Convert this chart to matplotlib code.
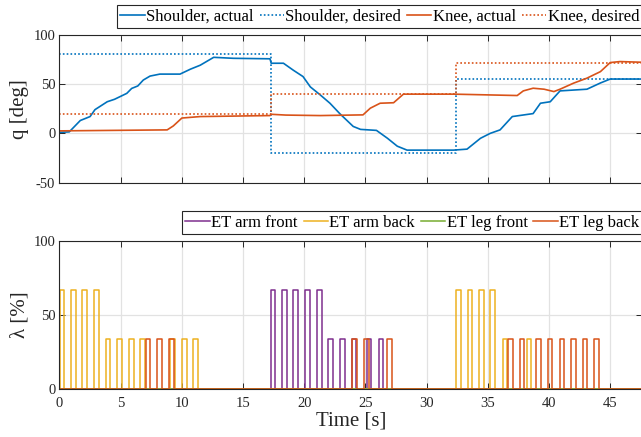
import numpy as np
import matplotlib.pyplot as plt

plt.rcParams['font.family'] = ['Liberation Serif', 'DejaVu Serif']
plt.rcParams['axes.unicode_minus'] = False

# ---- top panel: joint angles ----
shoulder_t = [0, 0.8, 1.7, 2.5, 2.9, 3.9, 4.5, 5.5, 5.9, 6.4, 6.85, 7.4, 8.2, 9.85,
              10.7, 11.5, 12.6, 14.2, 17.2, 17.3, 18.3, 19.1, 19.9, 20.5, 21.3, 22.1,
              22.9, 24.0, 24.6, 25.9, 26.8, 27.6, 28.4, 32.2, 33.3, 34.4, 35.2, 36.0,
              37.0, 38.7, 39.3, 40.1, 40.9, 43.1, 44.2, 45.0, 47.6]
shoulder_q = [1, 1.5, 13, 17, 24, 32, 34.5, 40.5, 45.5, 48, 54, 58, 60, 60,
              65, 69, 77, 76, 75.5, 71, 71, 64, 57.5, 47, 39, 30.5,
              20, 7, 4, 3, -5, -13, -17, -17, -16, -5, 0, 3.5,
              17, 20, 30.5, 32, 43, 44.7, 51, 55, 55]

knee_t = [0, 8.8, 9.3, 10.0, 11.5, 17.2, 17.3, 18.5, 21.3, 24.8, 25.4, 26.2, 27.3,
          28.1, 32.2, 37.4, 37.9, 38.7, 39.6, 40.4, 40.9, 42.0, 43.1, 44.2, 45.0,
          45.8, 47.6]
knee_q = [2.5, 3.5, 7.5, 15.5, 17, 18, 19.3, 18.5, 18, 18.7, 25.5, 30.5, 31,
          39.7, 39.7, 38.3, 43, 45.7, 44.7, 42.3, 44.7, 50.8, 55.9, 62.5, 71.7,
          72.7, 72]

desired_t = [0, 17.25, 32.42, 47.6]
shoulder_des = [80, -20, 55, 55]
knee_des = [20, 40, 71, 71]

# ---- bottom panel: pulse start times [s] and heights [%] ----
pulse_width = 0.38
arm_front_start = [17.27, 18.2, 19.1, 20.07, 21.03, 21.98, 22.93, 23.88, 25.1, 26.07]
arm_front_h = [66.7, 66.7, 66.7, 66.7, 66.7, 33.3, 33.3, 33.3, 33.3, 33.3]
arm_back_start = [0.02, 0.94, 1.87, 2.85, 3.78, 4.73, 5.68, 6.6, 9.03, 10.0, 10.94,
                  32.42, 33.35, 34.3, 35.2, 36.2, 38.17]
arm_back_h = [66.7, 66.7, 66.7, 66.7, 33.3, 33.3, 33.3, 33.3, 33.3, 33.3, 33.3,
              66.7, 66.7, 66.7, 66.7, 33.3, 33.3]
leg_front_start = []
leg_front_h = []
leg_back_start = [7.05, 8.0, 8.98, 23.9, 24.9, 26.8, 36.65, 37.6, 38.96, 39.9,
                  40.87, 41.8, 42.75, 43.7]
leg_back_h = [33.3] * 14

t_end = 47.6


def pulse_train(starts, heights):
    t, y = [0], [0]
    for s, h in zip(starts, heights):
        t += [s, s, s + pulse_width, s + pulse_width]
        y += [0, h, h, 0]
    t.append(t_end)
    y.append(0)
    return t, y


blue = '#0072BD'
orange = '#D95319'
yellow = '#EDB120'
purple = '#7E2F8E'
green = '#77AC30'
dark = '#262626'

fig = plt.figure(figsize=(6.41, 4.37), dpi=100)
ax1 = fig.add_axes([0.0928, 0.5819, 0.9088, 0.3389])
ax2 = fig.add_axes([0.0928, 0.1105, 0.9088, 0.3387])

dot = (0, (1, 1.3))
ax1.plot(shoulder_t, shoulder_q, color=blue, lw=1.2, label='Shoulder, actual')
ax1.plot(desired_t, shoulder_des, color=blue, lw=1.2, ls=dot, drawstyle='steps-post',
         label='Shoulder, desired')
ax1.plot(knee_t, knee_q, color=orange, lw=1.2, label='Knee, actual')
ax1.plot(desired_t, knee_des, color=orange, lw=1.2, ls=dot, drawstyle='steps-post',
         label='Knee, desired')

series = [(arm_front_start, arm_front_h, purple, 'ET arm front'),
          (arm_back_start, arm_back_h, yellow, 'ET arm back'),
          (leg_front_start, leg_front_h, green, 'ET leg front'),
          (leg_back_start, leg_back_h, orange, 'ET leg back')]
for starts, hs, c, lab in series:
    t, y = pulse_train(starts, hs)
    ax2.plot(t, y, color=c, lw=1.1, label=lab)

for ax in (ax1, ax2):
    ax.set_xlim(0, t_end)
    ax.set_xticks(np.arange(0, 50, 5))
    ax.grid(color='#e2e2e2', lw=0.9)
    ax.set_axisbelow(True)
    ax.tick_params(direction='in', top=True, right=True, length=4, width=0.7,
                   color=dark, labelcolor=dark, labelsize=10.5, pad=3)
    ax.tick_params(axis='x', pad=6)
    for sp in ax.spines.values():
        sp.set_color(dark)
        sp.set_linewidth(0.8)

ax1.set_ylim(-50, 100)
ax1.set_yticks([-50, 0, 50, 100])
ax1.tick_params(labelbottom=False)
ax1.set_ylabel('q [deg]', fontsize=15, color=dark, labelpad=3)

ax2.set_ylim(0, 100)
ax2.set_yticks([0, 50, 100])
ax2.set_ylabel('λ [%]', fontsize=15, color=dark, labelpad=3)
ax2.set_xlabel('Time [s]', fontsize=15, color=dark, labelpad=1)

leg_kw = dict(loc='lower left', ncol=4, frameon=True, fancybox=False, edgecolor=dark,
              framealpha=1, handlelength=1.45, handletextpad=0.1, columnspacing=0.35,
              borderpad=0.2, borderaxespad=0, fontsize=12,
              bbox_transform=fig.transFigure)
lg1 = fig.legend(handles=ax1.get_lines(), bbox_to_anchor=(117 / 641, 1 - 28 / 437), **leg_kw)
lg2 = fig.legend(handles=ax2.get_lines(), bbox_to_anchor=(182 / 641, 1 - 234 / 437), **leg_kw)
for lg in (lg1, lg2):
    lg.get_frame().set_linewidth(0.8)

fig.savefig('out.png', dpi=100)
